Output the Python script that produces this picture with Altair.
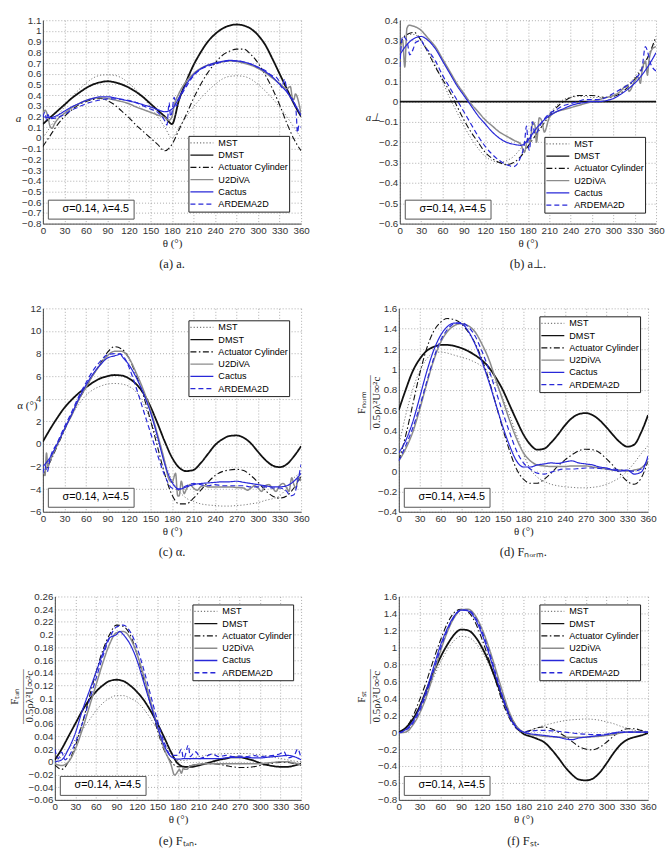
import altair as alt
import pandas as pd

# Azimuthal positions (deg) shared by every series
THETA = list(range(0, 361, 10))
MODELS = ["MST", "DMST", "Actuator Cylinder", "U2DiVA", "Cactus", "ARDEMA2D"]
NOTE = "σ=0.14, λ=4.5"

# ---------------- (a) axial induction a ----------------
A_MST = [0.0, 0.1, 0.2, 0.29, 0.38, 0.45, 0.51, 0.56, 0.585, 0.59, 0.585, 0.56, 0.51, 0.45, 0.38, 0.29, 0.2, 0.1, 0.0,
         0.1, 0.2, 0.29, 0.37, 0.44, 0.5, 0.55, 0.575, 0.58, 0.575, 0.55, 0.5, 0.44, 0.37, 0.29, 0.2, 0.1, 0.0]
A_DMST = [0.13, 0.19, 0.25, 0.31, 0.37, 0.42, 0.465, 0.5, 0.52, 0.53, 0.52, 0.5, 0.47, 0.43, 0.38, 0.32, 0.26, 0.2, 0.13,
          0.36, 0.53, 0.68, 0.8, 0.9, 0.97, 1.02, 1.05, 1.06, 1.05, 1.02, 0.96, 0.87, 0.74, 0.6, 0.46, 0.32, 0.2]
A_AC = [-0.08, 0.02, 0.12, 0.2, 0.26, 0.31, 0.34, 0.36, 0.37, 0.35, 0.31, 0.25, 0.19, 0.12, 0.06, 0.0, -0.06, -0.12, -0.06,
        0.08, 0.22, 0.37, 0.5, 0.61, 0.7, 0.77, 0.81, 0.83, 0.83, 0.78, 0.7, 0.59, 0.46, 0.31, 0.14, -0.01, -0.12]
A_U2 = [0.22, 0.11, 0.17, 0.23, 0.28, 0.32, 0.35, 0.37, 0.375, 0.37, 0.355, 0.34, 0.32, 0.29, 0.265, 0.24, 0.215, 0.19, 0.2,
        0.42, 0.53, 0.6, 0.65, 0.68, 0.7, 0.71, 0.72, 0.715, 0.7, 0.68, 0.65, 0.61, 0.56, 0.51, 0.46, 0.36, 0.22]
A_CA = [0.2, 0.19, 0.21, 0.25, 0.29, 0.32, 0.35, 0.37, 0.385, 0.385, 0.375, 0.36, 0.345, 0.33, 0.31, 0.29, 0.265, 0.245, 0.27,
        0.38, 0.5, 0.59, 0.645, 0.68, 0.7, 0.715, 0.725, 0.72, 0.71, 0.69, 0.66, 0.62, 0.57, 0.5, 0.43, 0.33, 0.21]
A_AR = [0.2, 0.18, 0.19, 0.22, 0.26, 0.29, 0.32, 0.34, 0.355, 0.365, 0.365, 0.36, 0.35, 0.33, 0.3, 0.27, 0.24, 0.16, 0.24,
        0.36, 0.48, 0.58, 0.64, 0.67, 0.69, 0.71, 0.72, 0.72, 0.71, 0.69, 0.66, 0.63, 0.58, 0.52, 0.45, 0.34, 0.1]
A_EXTRA = {
    "U2DiVA": [(3, 0.26), (7, 0.2), (13, 0.09), (16, 0.13), (176, 0.165), (183, 0.3), (345, 0.48), (348, 0.37), (352, 0.41)],
    "ARDEMA2D": [(3, 0.24), (5, 0.17), (7, 0.22), (173, 0.12), (176, 0.33), (178, 0.2), (183, 0.38), (186, 0.3),
                 (325, 0.57), (333, 0.47), (337, 0.55), (343, 0.4), (353, 0.25), (355, 0.05), (357, 0.12)],
}

# ---------------- (b) tangential induction a_perp ----------------
B_MST = [0.3, 0.33, 0.33, 0.3, 0.25, 0.18, 0.1, 0.02, -0.05, -0.12, -0.18, -0.23, -0.27, -0.29, -0.3, -0.29, -0.27, -0.23, -0.19,
         -0.15, -0.1, -0.06, -0.02, 0.01, 0.02, 0.025, 0.025, 0.02, 0.02, 0.02, 0.03, 0.05, 0.08, 0.12, 0.17, 0.23, 0.3]
B_DMST = [0.0] * 37
B_AC = [0.28, 0.33, 0.34, 0.3, 0.24, 0.17, 0.11, 0.05, -0.02, -0.09, -0.15, -0.2, -0.25, -0.28, -0.3, -0.31, -0.3, -0.27, -0.22,
        -0.17, -0.12, -0.07, -0.03, 0.0, 0.02, 0.03, 0.03, 0.03, 0.025, 0.02, 0.025, 0.04, 0.07, 0.11, 0.16, 0.23, 0.32]
B_U2 = [0.25, 0.36, 0.37, 0.35, 0.31, 0.27, 0.21, 0.15, 0.09, 0.04, -0.01, -0.05, -0.09, -0.12, -0.15, -0.17, -0.19, -0.21, -0.18,
        -0.12, -0.1, -0.08, -0.05, -0.04, -0.03, -0.02, -0.01, 0.0, 0.01, 0.02, 0.03, 0.05, 0.08, 0.1, 0.14, 0.2, 0.27]
B_CA = [0.23, 0.28, 0.31, 0.32, 0.3, 0.26, 0.2, 0.14, 0.08, 0.03, -0.02, -0.07, -0.11, -0.15, -0.18, -0.2, -0.21, -0.215, -0.19,
        -0.14, -0.1, -0.07, -0.05, -0.035, -0.02, -0.01, -0.005, 0.0, 0.0, 0.005, 0.015, 0.035, 0.06, 0.09, 0.13, 0.18, 0.24]
B_AR = [0.17, 0.3, 0.27, 0.3, 0.25, 0.2, 0.13, 0.07, 0.01, -0.05, -0.11, -0.17, -0.22, -0.26, -0.29, -0.31, -0.32, -0.27, -0.2,
        -0.16, -0.1, -0.06, -0.04, -0.02, -0.01, 0.0, 0.01, 0.01, 0.01, 0.02, 0.04, 0.06, 0.08, 0.11, 0.16, 0.22, 0.15]
B_EXTRA = {
    "U2DiVA": [(4, 0.3), (7, 0.17), (13, 0.375), (175, -0.25), (183, -0.2), (187, -0.1), (192, -0.2), (196, -0.08),
               (203, -0.15), (315, 0.07), (322, 0.05), (335, 0.12), (338, 0.09), (345, 0.2), (348, 0.13), (355, 0.26)],
    "ARDEMA2D": [(4, 0.32), (14, 0.23), (22, 0.29), (35, 0.27), (175, -0.21), (178, -0.12), (182, -0.24), (186, -0.1),
                 (345, 0.27), (352, 0.19)],
}

# ---------------- (c) angle of attack ----------------
C_MST = [-2.6, -1.3, 0.0, 1.3, 2.5, 3.5, 4.3, 4.8, 5.1, 5.3, 5.35, 5.3, 5.1, 4.6, 3.6, 2.1, 0.3, -1.6, -3.2,
         -4.2, -4.8, -5.1, -5.3, -5.4, -5.45, -5.5, -5.5, -5.45, -5.4, -5.3, -5.2, -5.0, -4.85, -4.6, -3.9, -3.0, -2.6]
C_DMST = [0.2, 1.3, 2.3, 3.2, 3.9, 4.5, 5.0, 5.45, 5.8, 6.0, 6.1, 6.05, 5.8, 5.3, 4.5, 3.3, 1.8, 0.2, -1.2,
          -2.1, -2.4, -2.3, -1.7, -0.9, -0.1, 0.4, 0.7, 0.75, 0.55, 0.05, -0.7, -1.4, -1.9, -2.05, -1.8, -1.1, -0.2]
C_AC = [-2.8, -1.6, -0.2, 1.2, 2.6, 3.9, 5.0, 6.1, 7.1, 8.1, 8.6, 8.4, 7.6, 6.1, 4.3, 2.1, -0.3, -2.7, -4.5,
        -5.3, -5.3, -4.8, -4.1, -3.4, -2.8, -2.45, -2.3, -2.25, -2.35, -2.8, -3.4, -4.1, -4.6, -4.8, -4.6, -3.9, -2.9]
C_U2 = [-2.3, -1.5, -0.1, 1.3, 2.5, 3.9, 5.0, 6.1, 7.0, 7.8, 8.2, 8.2, 7.6, 6.3, 4.8, 3.0, 0.8, -1.6, -3.4,
        -4.6, -4.0, -3.9, -3.8, -3.8, -3.8, -3.8, -3.8, -3.85, -3.9, -3.9, -3.9, -3.7, -3.9, -3.7, -3.9, -3.6, -3.3]
C_CA = [-2.0, -1.2, 0.0, 1.3, 2.6, 4.0, 5.2, 6.2, 7.0, 7.6, 7.8, 7.8, 7.0, 5.9, 4.5, 2.8, 0.6, -1.8, -3.4,
        -4.0, -3.8, -3.6, -3.5, -3.45, -3.4, -3.35, -3.35, -3.3, -3.4, -3.5, -3.6, -3.7, -3.8, -3.8, -3.7, -3.3, -2.6]
C_AR = [-2.6, -1.3, 0.1, 1.5, 2.8, 4.2, 5.4, 6.5, 7.3, 7.9, 8.0, 7.9, 6.8, 5.0, 3.0, 1.0, -1.0, -2.8, -3.9,
        -4.0, -3.7, -3.5, -3.6, -3.7, -3.6, -3.7, -3.7, -3.7, -3.7, -3.8, -3.8, -3.8, -3.9, -3.9, -4.2, -4.5, -1.8]
C_EXTRA = {
    "U2DiVA": [(3, -2.8), (5, -0.8), (7, -2.0), (175, -3.0), (185, -2.6), (188, -4.6), (193, -3.3), (197, -4.4),
               (205, -3.6), (215, -4.1), (225, -3.7), (285, -4.1), (295, -3.7), (305, -4.2), (315, -3.6),
               (325, -4.2), (335, -3.5), (343, -4.2), (347, -3.0), (353, -3.9), (356, -2.9)],
    "Cactus": [(105, 7.9), (108, 8.0)],
    "ARDEMA2D": [(3, -1.9), (6, -2.5), (115, 7.5), (345, -4.6), (355, -3.4)],
}

# ---------------- (d) normal force ----------------
D_MST = [0.25, 0.55, 0.8, 0.98, 1.1, 1.16, 1.17, 1.16, 1.14, 1.12, 1.1, 1.07, 1.03, 0.96, 0.86, 0.72, 0.55, 0.36, 0.17,
         0.02, -0.06, -0.1, -0.13, -0.145, -0.155, -0.16, -0.165, -0.165, -0.16, -0.15, -0.13, -0.1, -0.06, 0.0, 0.08, 0.17, 0.25]
D_DMST = [0.6, 0.8, 0.98, 1.1, 1.18, 1.22, 1.24, 1.24, 1.23, 1.21, 1.18, 1.14, 1.09, 1.02, 0.92, 0.8, 0.65, 0.5, 0.36,
          0.26, 0.21, 0.22, 0.28, 0.36, 0.45, 0.52, 0.56, 0.57, 0.55, 0.5, 0.43, 0.35, 0.28, 0.24, 0.26, 0.38, 0.55]
D_AC = [0.1, 0.35, 0.65, 0.95, 1.2, 1.37, 1.46, 1.5, 1.49, 1.45, 1.37, 1.26, 1.1, 0.9, 0.66, 0.42, 0.2, 0.02, -0.08,
        -0.12, -0.12, -0.08, -0.02, 0.05, 0.11, 0.16, 0.2, 0.215, 0.21, 0.18, 0.12, 0.05, -0.03, -0.1, -0.13, -0.07, 0.1]
D_U2 = [0.1, 0.22, 0.38, 0.6, 0.85, 1.08, 1.26, 1.37, 1.43, 1.45, 1.43, 1.37, 1.25, 1.1, 0.9, 0.7, 0.5, 0.32, 0.18,
        0.1, 0.06, 0.05, 0.045, 0.045, 0.045, 0.05, 0.05, 0.05, 0.04, 0.03, 0.02, 0.01, 0.01, 0.0, 0.01, 0.03, 0.1]
D_CA = [0.18, 0.3, 0.48, 0.72, 0.97, 1.18, 1.33, 1.42, 1.455, 1.45, 1.38, 1.25, 1.08, 0.88, 0.66, 0.44, 0.25, 0.1, 0.04,
        0.04, 0.06, 0.07, 0.08, 0.075, 0.09, 0.1, 0.08, 0.07, 0.06, 0.04, 0.03, 0.01, 0.0, 0.01, -0.03, -0.01, 0.15]
D_AR = [0.1, 0.25, 0.42, 0.63, 0.87, 1.1, 1.28, 1.39, 1.45, 1.46, 1.42, 1.33, 1.18, 1.0, 0.79, 0.58, 0.38, 0.2, 0.08,
        0.02, -0.02, -0.03, -0.01, 0.01, 0.02, 0.02, 0.025, 0.03, 0.03, 0.025, 0.02, 0.02, 0.01, 0.0, 0.0, 0.02, 0.12]
D_EXTRA = {}

# ---------------- (e) tangential force ----------------
E_MST = [0.0, 0.008, 0.02, 0.035, 0.05, 0.065, 0.08, 0.092, 0.1, 0.104, 0.104, 0.1, 0.094, 0.083, 0.068, 0.05, 0.03, 0.012, 0.002,
         0.002, 0.005, 0.008, 0.01, 0.012, 0.012, 0.013, 0.013, 0.013, 0.013, 0.012, 0.011, 0.009, 0.007, 0.005, 0.003, 0.001, 0.0]
E_DMST = [0.003, 0.02, 0.04, 0.06, 0.08, 0.097, 0.11, 0.12, 0.127, 0.129, 0.127, 0.12, 0.11, 0.097, 0.08, 0.06, 0.038, 0.015, -0.003,
          -0.008, -0.008, -0.006, -0.003, 0.0, 0.003, 0.005, 0.007, 0.007, 0.005, 0.002, -0.002, -0.005, -0.007, -0.008, -0.008, -0.006, -0.003]
E_AC = [-0.005, -0.012, 0.0, 0.025, 0.06, 0.1, 0.14, 0.175, 0.2, 0.215, 0.213, 0.2, 0.17, 0.13, 0.09, 0.05, 0.018, 0.0, -0.008,
        -0.008, -0.006, -0.004, -0.003, -0.003, -0.004, -0.006, -0.008, -0.009, -0.009, -0.008, -0.006, -0.004, -0.002, -0.001, -0.001, -0.003, -0.006]
E_U2 = [-0.003, -0.006, 0.0, 0.02, 0.05, 0.085, 0.12, 0.155, 0.185, 0.203, 0.205, 0.195, 0.17, 0.135, 0.095, 0.055, 0.02, -0.005, -0.015,
        -0.012, -0.006, -0.004, -0.003, -0.003, -0.003, -0.003, -0.003, -0.003, -0.003, -0.003, -0.003, -0.002, -0.001, 0.0, 0.0, -0.002, -0.005]
E_CA = [0.0, 0.003, 0.02, 0.045, 0.08, 0.11, 0.14, 0.17, 0.195, 0.2, 0.2, 0.185, 0.16, 0.125, 0.09, 0.055, 0.025, 0.008, 0.004,
        0.005, 0.005, 0.005, 0.005, 0.005, 0.005, 0.006, 0.007, 0.007, 0.007, 0.006, 0.006, 0.007, 0.008, 0.009, 0.01, 0.008, 0.003]
E_AR = [0.02, 0.015, 0.008, 0.03, 0.06, 0.095, 0.13, 0.165, 0.195, 0.212, 0.215, 0.205, 0.18, 0.145, 0.105, 0.065, 0.03, 0.01, 0.01,
        0.008, 0.01, 0.01, 0.008, 0.012, 0.008, 0.01, 0.008, 0.009, 0.008, 0.01, 0.008, 0.009, 0.01, 0.013, 0.008, 0.01, 0.005]
E_EXTRA = {
    "U2DiVA": [(175, -0.021), (182, -0.012), (185, -0.018), (188, -0.01), (193, -0.012), (197, -0.007)],
    "Cactus": [(95, 0.205)],
    "ARDEMA2D": [(5, 0.005), (15, 0.003), (185, 0.02), (188, 0.005), (195, 0.026), (198, 0.008), (205, 0.016),
                 (212, 0.005), (335, 0.016), (340, 0.006), (355, 0.02)],
}

# ---------------- (f) streamwise force ----------------
F_MST = [0.0, 0.04, 0.13, 0.27, 0.45, 0.64, 0.82, 0.97, 1.08, 1.13, 1.12, 1.06, 0.95, 0.8, 0.6, 0.4, 0.2, 0.06, 0.0,
         0.02, 0.05, 0.08, 0.1, 0.12, 0.135, 0.145, 0.15, 0.155, 0.15, 0.14, 0.12, 0.1, 0.07, 0.045, 0.02, 0.005, 0.0]
F_DMST = [0.0, 0.05, 0.15, 0.3, 0.5, 0.7, 0.88, 1.03, 1.15, 1.21, 1.2, 1.13, 1.0, 0.83, 0.62, 0.4, 0.2, 0.06, -0.02,
          -0.05, -0.08, -0.12, -0.2, -0.3, -0.41, -0.5, -0.56, -0.57, -0.55, -0.48, -0.37, -0.25, -0.15, -0.09, -0.06, -0.04, -0.01]
F_AC = [0.0, 0.05, 0.18, 0.38, 0.6, 0.85, 1.08, 1.28, 1.41, 1.45, 1.42, 1.3, 1.1, 0.86, 0.6, 0.35, 0.16, 0.04, 0.0,
        0.02, 0.05, 0.06, 0.04, 0.0, -0.05, -0.11, -0.17, -0.2, -0.21, -0.18, -0.12, -0.05, 0.01, 0.04, 0.04, 0.02, 0.0]
F_U2 = [-0.01, 0.0, 0.08, 0.22, 0.42, 0.68, 0.95, 1.18, 1.35, 1.44, 1.45, 1.38, 1.22, 1.0, 0.74, 0.47, 0.23, 0.07, 0.0,
        -0.03, -0.04, -0.05, -0.055, -0.06, -0.06, -0.06, -0.06, -0.06, -0.055, -0.05, -0.04, -0.03, -0.01, 0.0, 0.0, 0.0, 0.0]
F_CA = [-0.01, 0.03, 0.12, 0.28, 0.5, 0.76, 1.02, 1.22, 1.37, 1.44, 1.43, 1.34, 1.16, 0.93, 0.66, 0.4, 0.18, 0.05, 0.0,
        -0.02, -0.03, -0.04, -0.05, -0.06, -0.08, -0.09, -0.07, -0.06, -0.05, -0.04, -0.03, -0.01, 0.0, 0.0, 0.0, 0.0, 0.0]
F_AR = [-0.01, 0.02, 0.1, 0.25, 0.46, 0.72, 0.98, 1.2, 1.36, 1.44, 1.44, 1.36, 1.19, 0.96, 0.69, 0.42, 0.2, 0.06, 0.0,
        0.01, 0.02, 0.02, 0.015, 0.01, 0.0, -0.01, -0.02, -0.025, -0.03, -0.03, -0.025, -0.015, -0.005, 0.0, 0.0, 0.0, 0.0]
F_EXTRA = {}

# Tick labels
X_TICKS = list(range(0, 361, 30))
A_YTICKS = [-0.8, -0.7, -0.6, -0.5, -0.4, -0.3, -0.2, -0.1, 0, 0.1, 0.2, 0.3, 0.4, 0.5, 0.6, 0.7, 0.8, 0.9, 1, 1.1]
B_YTICKS = [-0.6, -0.5, -0.4, -0.3, -0.2, -0.1, 0, 0.1, 0.2, 0.3, 0.4]
C_YTICKS = [-6, -4, -2, 0, 2, 4, 6, 8, 10, 12]
D_YTICKS = [-0.4, -0.2, 0, 0.2, 0.4, 0.6, 0.8, 1, 1.2, 1.4, 1.6]
E_YTICKS = [-0.06, -0.04, -0.02, 0, 0.02, 0.04, 0.06, 0.08, 0.1, 0.12, 0.14, 0.16, 0.18, 0.2, 0.22, 0.24, 0.26]
F_YTICKS = [-0.8, -0.6, -0.4, -0.2, 0, 0.2, 0.4, 0.6, 0.8, 1, 1.2, 1.4, 1.6]

# Line styles per model
COLORS = {"MST": "#7a7a7a", "DMST": "#111111", "Actuator Cylinder": "#111111",
          "U2DiVA": "#8c8c8c", "Cactus": "#2828d8", "ARDEMA2D": "#2828d8"}
DASHES = {"MST": [1.2, 2], "DMST": [1, 0], "Actuator Cylinder": [6, 2.5, 1.5, 2.5],
          "U2DiVA": [1, 0], "Cactus": [1, 0], "ARDEMA2D": [5, 3]}
WIDTHS = {"MST": 1.0, "DMST": 1.8, "Actuator Cylinder": 1.1, "U2DiVA": 1.5, "Cactus": 1.2, "ARDEMA2D": 1.2}

SERIF = "Liberation Serif"
SANS = "Liberation Sans"


def long_table(series, extras):
    rows = []
    for m in MODELS:
        pts = dict(zip(THETA, series[m]))
        for t, v in extras.get(m, []):
            pts[t] = v
        for t in sorted(pts):
            rows.append({"theta": t, "value": pts[t], "model": m})
    return pd.DataFrame(rows)


def panel(series, extras, ydom, yticks, ytitle, title_x, title_y, title_angle, caption,
          leg_orient, leg_offset, width, height, title_style="normal"):
    df = long_table(series, extras)
    x = alt.X("theta:Q", scale=alt.Scale(domain=[0, 360], nice=False, zero=False),
              axis=alt.Axis(values=X_TICKS, title="θ (°)", titlePadding=2))
    y = alt.Y("value:Q", scale=alt.Scale(domain=ydom, nice=False, zero=False),
              axis=alt.Axis(values=yticks, format="~g", title=ytitle, titleX=title_x, titleY=title_y,
                            titleAngle=title_angle, titleAlign="center", titleBaseline="middle",
                            titleFontStyle=title_style, titleFontSize=11, titleLineHeight=7.5))
    leg = alt.Legend(title=None, orient=leg_orient, offset=leg_offset, strokeColor="#222", fillColor="white",
                     padding=1, labelFont=SANS, labelFontSize=9.1, labelColor="#000", symbolType="stroke",
                     symbolSize=529, symbolStrokeWidth=1.3, clipHeight=12, rowPadding=0.3, labelOffset=4,
                     labelLimit=200)
    color = alt.Color("model:N", scale=alt.Scale(domain=MODELS, range=[COLORS[m] for m in MODELS]), legend=leg)
    dash = alt.StrokeDash("model:N", scale=alt.Scale(domain=MODELS, range=[DASHES[m] for m in MODELS]), legend=leg)
    base = alt.Chart(df)
    layers = [
        base.transform_filter(alt.datum.model == m)
        .mark_line(strokeWidth=WIDTHS[m], interpolate="monotone", clip=True)
        .encode(x=x, y=y, color=color, strokeDash=dash)
        for m in MODELS
    ]
    note_leg = alt.Legend(title=None, orient="bottom-left", offset=5, strokeColor="#555", fillColor="white",
                          padding=4, labelFont=SANS, labelFontSize=10.8, labelColor="#000", symbolSize=0,
                          symbolOpacity=0, symbolStrokeWidth=0, labelOffset=0)
    note = alt.Chart(alt.Data(values=[{"note": NOTE}])).mark_point(opacity=0).encode(
        shape=alt.Shape("note:N", legend=note_leg))
    return alt.layer(*layers, note).properties(
        width=width, height=height,
        title=alt.TitleParams(caption, orient="bottom", anchor="middle", frame="group", font=SERIF,
                              fontSize=12.5, fontWeight="normal", color="#222", offset=10))


def sdict(mst, dmst, ac, u2, ca, ar):
    return dict(zip(MODELS, [mst, dmst, ac, u2, ca, ar]))


FRAC = "—————"
pa = panel(sdict(A_MST, A_DMST, A_AC, A_U2, A_CA, A_AR), A_EXTRA, [-0.8, 1.1], A_YTICKS, "a",
           -25, 99, 0, "(a) a.", "bottom-right", 12, 259, 204, title_style="italic")
pb = panel(sdict(B_MST, B_DMST, B_AC, B_U2, B_CA, B_AR), B_EXTRA, [-0.6, 0.4], B_YTICKS, "a⊥",
           -27, 98, 0, "(b) a⊥.", "bottom-right", 11, 257, 204, title_style="italic")
pc = panel(sdict(C_MST, C_DMST, C_AC, C_U2, C_CA, C_AR), C_EXTRA, [-6, 12], C_YTICKS, "α (°)",
           -16, 97, 0, "(c) α.", "top-right", 12, 259, 204)
pd_ = panel(sdict(D_MST, D_DMST, D_AC, D_U2, D_CA, D_AR), D_EXTRA, [-0.4, 1.6], D_YTICKS,
            ["Fₙₒᵣₘ", FRAC, "0.5ρλ²U∞²c"], -37, 94, 270, "(d) Fₙₒᵣₘ.", "top-right", 8, 250, 204)
pe = panel(sdict(E_MST, E_DMST, E_AC, E_U2, E_CA, E_AR), E_EXTRA, [-0.06, 0.26], E_YTICKS,
           ["Fₜₐₙ", FRAC, "0.5ρλ²U∞²c"], -40, 100, 270, "(e) Fₜₐₙ.", "top-right", 8, 247, 204)
pf = panel(sdict(F_MST, F_DMST, F_AC, F_U2, F_CA, F_AR), F_EXTRA, [-0.8, 1.6], F_YTICKS,
           ["Fₛₜ", FRAC, "0.5ρλ²U∞²c"], -37, 100, 270, "(f) Fₛₜ.", "top-right", 8, 250, 204)

IND = dict(color="independent", strokeDash="independent", shape="independent")

# narrow empty cell that indents panel (e)
spacer = alt.Chart(alt.Data(values=[{"k": 0}])).mark_point(opacity=0).properties(width=1, height=1)

row1 = alt.hconcat(pa, pb, spacing=54).resolve_scale(**IND)
row2 = alt.hconcat(pc, pd_, spacing=45).resolve_scale(**IND)
inner = alt.hconcat(spacer, pe, spacing=11, bounds="flush").resolve_scale(**IND)
row3 = alt.hconcat(inner, pf, spacing=45).resolve_scale(**IND)

chart = (
    alt.vconcat(row1, row2, row3, spacing=31)
    .resolve_scale(**IND)
    .properties(padding={"left": 8, "top": 13, "right": 0, "bottom": 0}, background="white")
    .configure_view(stroke="transparent")
    .configure_axis(labelFont=SANS, labelFontSize=9.8, labelColor="#333", titleFont=SERIF,
                    titleFontWeight="normal", titleColor="#222", grid=True, gridColor="#9a9a9a",
                    gridDash=[1, 2], gridWidth=0.8, domainColor="#444", ticks=False, labelPadding=2,
                    labelFlush=False, labelOverlap=False)
)

chart.save("out.html", embed_options={"renderer": "svg", "actions": False})
